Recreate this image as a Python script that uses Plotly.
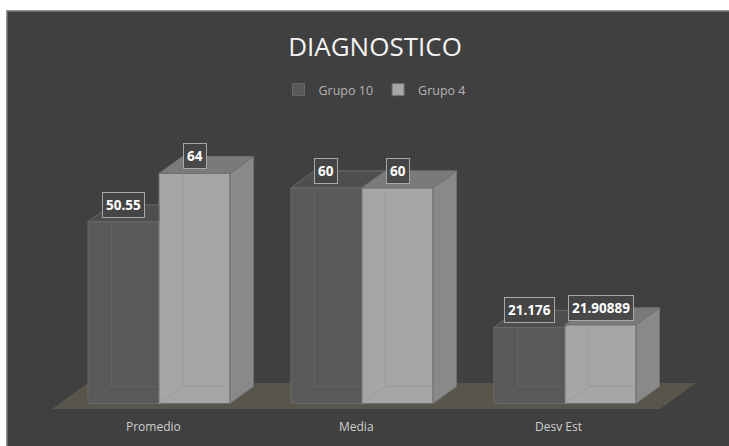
import plotly.graph_objects as go

# ---------------- data ----------------
categories = ["Promedio", "Media", "Desv Est"]
series_names = ["Grupo 10", "Grupo 4"]
grupo10 = [50.55, 60, 21.176]
grupo4 = [64, 60, 21.90889]
chart_title = "DIAGNOSTICO"

# ---------------- layout geometry (pixels) ----------------
W, H = 729, 446
ML, MT = 7, 11
X_RANGE = [-0.7488, 2.8079]
Y_RANGE = [-11.83, 109.2]
PX_X = (W - ML) / (X_RANGE[1] - X_RANGE[0])
PX_Y = (H - MT) / (Y_RANGE[1] - Y_RANGE[0])
DX = 23.5 / PX_X          # depth offset (3D look)
DY = 17.0 / PX_Y
BAR_W = 0.35

# floor (parallelogram under the bars)
FLOOR_FRONT_Y = -5.5 / PX_Y
FLOOR_BACK_Y = FLOOR_FRONT_Y + 26 / PX_Y
FLOOR_X0 = (52 - 159) / PX_X
FLOOR_X1 = (660 - 159) / PX_X
FLOOR_DX = 36 / PX_X

C10_FRONT, C10_TOP, C10_EDGE, C10_HIDDEN = "#595959", "#4e4e4e", "#6a6a6a", "#636363"
C4_FRONT, C4_TOP, C4_SIDE, C4_EDGE, C4_HIDDEN = "#a6a6a6", "#7a7a7a", "#898989", "#707070", "#9b9b9b"
BG = "#404040"
FONT = "Open Sans"

xs = list(range(len(categories)))

fig = go.Figure()

fig.add_trace(go.Bar(x=xs, y=grupo10, name=series_names[0],
                     marker=dict(color=C10_FRONT, line=dict(color=C10_EDGE, width=1)),
                     hoverinfo="skip"))
fig.add_trace(go.Bar(x=xs, y=grupo4, name=series_names[1],
                     marker=dict(color=C4_FRONT, line=dict(color=C4_EDGE, width=1)),
                     hoverinfo="skip"))

# hidden (back) edges seen through the semi-transparent boxes
hx10, hy10, hx4, hy4 = [], [], [], []
for i in xs:
    h10, h4 = grupo10[i], grupo4[i]
    x0, x1, x2 = i - BAR_W, i, i + BAR_W
    hx10 += [x0 + DX, x0 + DX, None, x0, x0 + DX, x1, None]
    hy10 += [h10 + DY, DY, None, 0, DY, DY, None]
    hx4 += [x1 + DX, x1 + DX, None, x1, x1 + DX, x2 + DX, None]
    hy4 += [h4 + DY, DY, None, 0, DY, DY, None]
fig.add_trace(go.Scatter(x=hx10, y=hy10, mode="lines", line=dict(color=C10_HIDDEN, width=1),
                         showlegend=False, hoverinfo="skip"))
fig.add_trace(go.Scatter(x=hx4, y=hy4, mode="lines", line=dict(color=C4_HIDDEN, width=1),
                         showlegend=False, hoverinfo="skip"))

# top faces of Grupo 10 (clipped where Grupo 4's front hides them)
tx, ty = [], []
for i in xs:
    h10, h4 = grupo10[i], grupo4[i]
    x0, x1 = i - BAR_W, i
    if h4 >= h10 + DY:
        tx += [x0, x1, x1, x0 + DX, x0, None]
        ty += [h10, h10, h10 + DY, h10 + DY, h10, None]
    else:
        hc = max(h4, h10)
        tx += [x0, x1, x1, x1 + DX * (hc - h10) / DY, x1 + DX, x0 + DX, x0, None]
        ty += [h10, h10, hc, hc, h10 + DY, h10 + DY, h10, None]
fig.add_trace(go.Scatter(x=tx, y=ty, mode="lines", fill="toself", fillcolor=C10_TOP,
                         line=dict(color=C10_EDGE, width=1), showlegend=False, hoverinfo="skip"))

# top and side faces of Grupo 4
tx, ty, sx, sy = [], [], [], []
for i in xs:
    h4 = grupo4[i]
    x1, x2 = i, i + BAR_W
    tx += [x1, x2, x2 + DX, x1 + DX, x1, None]
    ty += [h4, h4, h4 + DY, h4 + DY, h4, None]
    sx += [x2, x2 + DX, x2 + DX, x2, x2, None]
    sy += [0, DY, h4 + DY, h4, 0, None]
fig.add_trace(go.Scatter(x=sx, y=sy, mode="lines", fill="toself", fillcolor=C4_SIDE,
                         line=dict(color=C4_EDGE, width=1), showlegend=False, hoverinfo="skip"))
fig.add_trace(go.Scatter(x=tx, y=ty, mode="lines", fill="toself", fillcolor=C4_TOP,
                         line=dict(color=C4_EDGE, width=1), showlegend=False, hoverinfo="skip"))

# data labels
annotations = []
for vals, off in ((grupo10, -BAR_W / 2), (grupo4, BAR_W / 2)):
    for i in xs:
        annotations.append(dict(
            x=i + off, y=vals[i], text="<b>%s</b>" % vals[i], showarrow=False,
            yshift=17, font=dict(family=FONT, size=13.5, color="#ffffff"),
            bgcolor="rgba(68,68,68,0.92)", bordercolor="#a8a8a8", borderwidth=1, borderpad=3,
            xanchor="center", yanchor="middle"))

# category labels along the floor front
cat_w = (FLOOR_X1 - FLOOR_X0) / len(categories)
for i, c in enumerate(categories):
    annotations.append(dict(
        x=FLOOR_X0 + (i + 0.5) * cat_w, y=FLOOR_FRONT_Y, text=c, showarrow=False,
        yshift=-18, font=dict(family=FONT, size=12, color="#cfcfcf"),
        xanchor="center", yanchor="middle"))

shapes = [
    dict(type="path", xref="x", yref="y", layer="below",
         path="M %f,%f L %f,%f L %f,%f L %f,%f Z" % (
             FLOOR_X0, FLOOR_FRONT_Y, FLOOR_X1, FLOOR_FRONT_Y,
             FLOOR_X1 + FLOOR_DX, FLOOR_BACK_Y, FLOOR_X0 + FLOOR_DX, FLOOR_BACK_Y),
         fillcolor="#58554a", line=dict(width=0)),
    dict(type="rect", xref="paper", yref="paper", x0=0, x1=1.05, y0=-0.05, y1=1,
         line=dict(color="#757575", width=1.5), fillcolor="rgba(0,0,0,0)", layer="above"),
]

fig.update_layout(
    width=W, height=H,
    margin=dict(l=ML, r=0, t=MT, b=0, pad=0),
    paper_bgcolor="#ffffff", plot_bgcolor=BG,
    barmode="group", bargap=0.3, bargroupgap=0,
    title=dict(text=chart_title, x=375 / W, xanchor="center", xref="container",
               y=1 - 47 / H, yanchor="middle", yref="container",
               font=dict(family=FONT, size=26, color="#f2f2f2")),
    legend=dict(orientation="h", x=(375 - ML) / (W - ML), xanchor="center",
                y=1 - (90 - MT) / (H - MT), yanchor="middle",
                font=dict(family=FONT, size=12.5, color="#b4b4b4"),
                bgcolor="rgba(0,0,0,0)", itemwidth=30, traceorder="normal"),
    xaxis=dict(range=X_RANGE, visible=False, fixedrange=True),
    yaxis=dict(range=Y_RANGE, visible=False, fixedrange=True),
    annotations=annotations, shapes=shapes,
    showlegend=True,
)

fig.write_html("out.html")
